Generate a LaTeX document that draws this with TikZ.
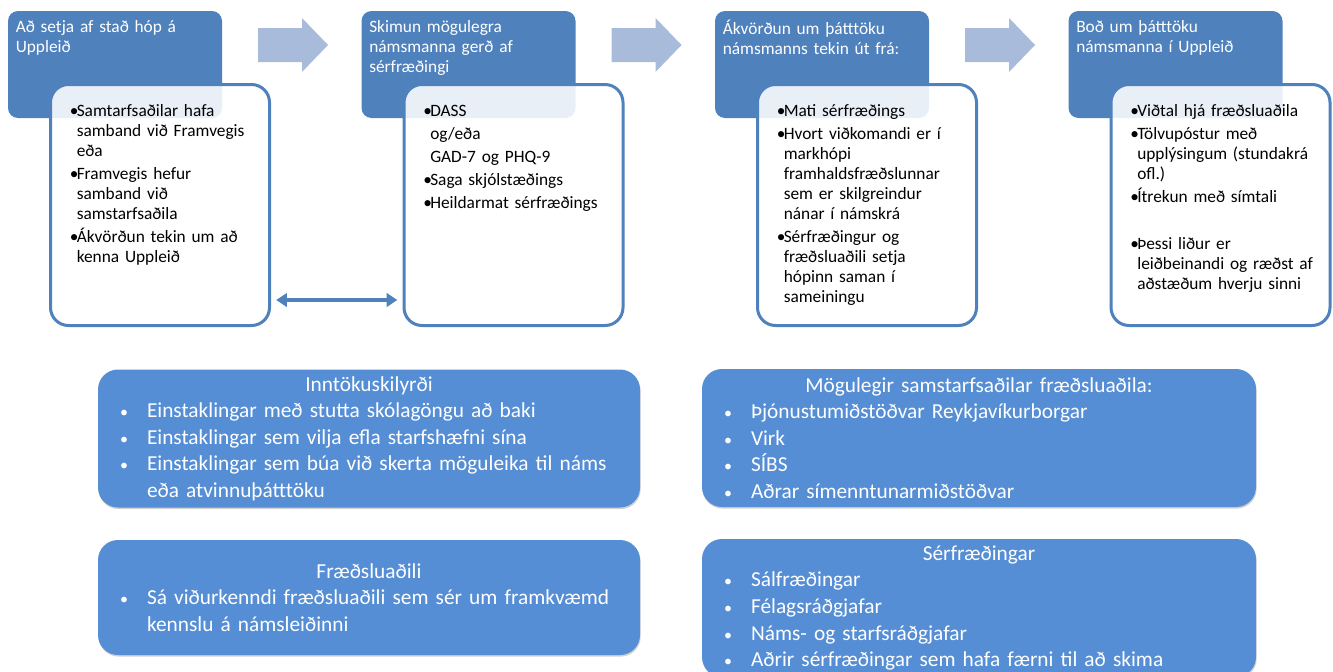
\documentclass[tikz,border=0pt]{standalone}
\usepackage{fontspec}
\setmainfont{Carlito}
\usetikzlibrary{arrows.meta,shadows}
\setlength{\parindent}{0pt}
\setlength{\parskip}{0pt}

\definecolor{headblue}{RGB}{79,129,189}
\definecolor{boxblue}{RGB}{85,142,213}
\definecolor{arrowblue}{RGB}{168,187,218}

\newcommand{\bul}{\makebox[5.25pt][l]{•}}
\newcommand{\ind}{\hspace*{5.25pt}}
\newcommand{\bbul}{\hspace*{10.5pt}\makebox[20.25pt][l]{\fontsize{12}{12}\selectfont•}}
\newcommand{\bindent}{\hspace*{30.75pt}}

\tikzset{
    headbox/.style={rectangle, rounded corners=7.5pt, fill=headblue, anchor=north west,
        minimum width=160.5pt, minimum height=80.25pt, inner sep=0pt, outer sep=0pt},
    headtext/.style={anchor=north west, text=white, text width=155pt, align=left,
        inner sep=0pt, font=\fontsize{13}{15}\selectfont},
    itembox/.style={rectangle, rounded corners=13.5pt, draw=headblue, line width=2.25pt,
        fill=white, fill opacity=0.88, anchor=north west, minimum width=164.25pt,
        minimum height=180.75pt, inner sep=0pt, outer sep=0pt},
    itemtext/.style={anchor=north west, text width=158pt, align=left, inner sep=0pt,
        font=\fontsize{13}{15}\selectfont},
    infobox/.style={rectangle, rounded corners=15pt, fill=boxblue, text=white,
        inner xsep=6pt, inner ysep=0pt, align=left, font=\fontsize{16}{19.9}\selectfont,
        drop shadow={shadow xshift=0.5pt, shadow yshift=-1.2pt, fill=black!40, opacity=0.45}},
    stepflow/.style={fill=arrowblue},
    linkarrow/.style={{Triangle[length=8pt,width=10pt]}-{Triangle[length=8pt,width=10pt]},
        draw=headblue, line width=2.4pt, shorten <=5pt, shorten >=5pt},
}

\begin{document}
\begin{tikzpicture}[x=0.75pt,y=-0.75pt]
    % Page
    \useasboundingbox (0,0) rectangle (1333,671);
    \fill[white] (0,0) rectangle (1333,671);
    \clip (0,0) rectangle (1333,671);

    % Step headers
    \node[headbox] (h1) at (8,11) {};
    \node[headbox] (h2) at (361.5,11) {};
    \node[headbox] (h3) at (715,11) {};
    \node[headbox] (h4) at (1068.5,11) {};

    \node[headtext] (h1t) at ([shift={(7.5,9)}]h1.north west) {Að setja af stað hóp á\\Uppleið};
    \node[headtext] (h2t) at ([shift={(7.5,9)}]h2.north west) {Skimun mögulegra\\námsmanna gerð af\\sérfræðingi};
    \node[headtext] (h3t) at ([shift={(7.5,9)}]h3.north west) {Ákvörðun um þátttöku\\námsmanns tekin út frá:};
    \node[headtext] (h4t) at ([shift={(7.5,9)}]h4.north west) {Boð um þátttöku\\námsmanna í Uppleið};

    % Arrows between steps
    \foreach \x in {258,611.5,965}
        \fill[stepflow] (\x,28) -- ++(44,0) -- ++(0,-10) -- ++(26,27) -- ++(-26,27) -- ++(0,-10) -- ++(-44,0) -- cycle;

    % Step details
    \node[itembox] (w1) at (50.5,84.5) {};
    \node[itembox] (w2) at (404,84.5) {};
    \node[itembox] (w3) at (757.5,84.5) {};
    \node[itembox] (w4) at (1111,84.5) {};

    \node[itemtext] (w1t) at ([shift={(19,20)}]w1.north west) {%
        \bul Samtarfsaðilar hafa\\
        \ind samband við Framvegis\\
        \ind eða\\[2.25pt]
        \bul Framvegis hefur\\
        \ind samband við\\
        \ind samstarfsaðila\\[2.25pt]
        \bul Ákvörðun tekin um að\\
        \ind kenna Uppleið};
    \node[itemtext] (w2t) at ([shift={(19,20)}]w2.north west) {%
        \bul DASS\\[2.25pt]
        \ind og/eða\\[2.25pt]
        \ind GAD-7 og PHQ-9\\[2.25pt]
        \bul Saga skjólstæðings\\[2.25pt]
        \bul Heildarmat sérfræðings};
    \node[itemtext] (w3t) at ([shift={(19,20)}]w3.north west) {%
        \bul Mati sérfræðings\\[2.25pt]
        \bul Hvort viðkomandi er í\\
        \ind markhópi\\
        \ind framhaldsfræðslunnar\\
        \ind sem er skilgreindur\\
        \ind nánar í námskrá\\[2.25pt]
        \bul Sérfræðingur og\\
        \ind fræðsluaðili setja\\
        \ind hópinn saman í\\
        \ind sameiningu};
    \node[itemtext] (w4t) at ([shift={(19,20)}]w4.north west) {%
        \bul Viðtal hjá fræðsluaðila\\[2.25pt]
        \bul Tölvupóstur með\\
        \ind upplýsingum (stundakrá\\
        \ind ofl.)\\[2.25pt]
        \bul Ítrekun með símtali\\[20.25pt]
        \bul Þessi liður er\\
        \ind leiðbeinandi og ræðst af\\
        \ind aðstæðum hverju sinni};

    % Link between first two steps
    \coordinate (mid) at (0,300);
    \draw[linkarrow] (w1.east |- mid) -- (w2.west |- mid);

    % Info boxes
    \node[infobox, text width=394.5pt, minimum height=103.5pt] (krit) at (369,438.5) {%
        {\centering Inntökuskilyrði\par}
        \bbul Einstaklingar með stutta skólagöngu að baki\\
        \bbul Einstaklingar sem vilja efla starfshæfni sína\\
        \bbul Einstaklingar sem búa við skerta möguleika til náms\\
        \bindent eða atvinnuþátttöku};
    \node[infobox, text width=394.5pt, minimum height=86.25pt] (fraed) at (369,597.5) {%
        {\centering Fræðsluaðili\par}
        \bbul Sá viðurkenndi fræðsluaðili sem sér um framkvæmd\\
        \bindent kennslu á námsleiðinni};
    \node[infobox, text width=403.5pt, minimum height=103.5pt] (samst) at (979,438) {%
        {\centering Mögulegir samstarfsaðilar fræðsluaðila:\par}
        \bbul Þjónustumiðstöðvar Reykjavíkurborgar\\
        \bbul Virk\\
        \bbul SÍBS\\
        \bbul Aðrar símenntunarmiðstöðvar};
    \node[infobox, text width=403.5pt, minimum height=103.5pt] (serfr) at (979,608) {%
        {\centering Sérfræðingar\par}
        \bbul Sálfræðingar\\
        \bbul Félagsráðgjafar\\
        \bbul Náms- og starfsráðgjafar\\
        \bbul Aðrir sérfræðingar sem hafa færni til að skima};
\end{tikzpicture}
\end{document}
